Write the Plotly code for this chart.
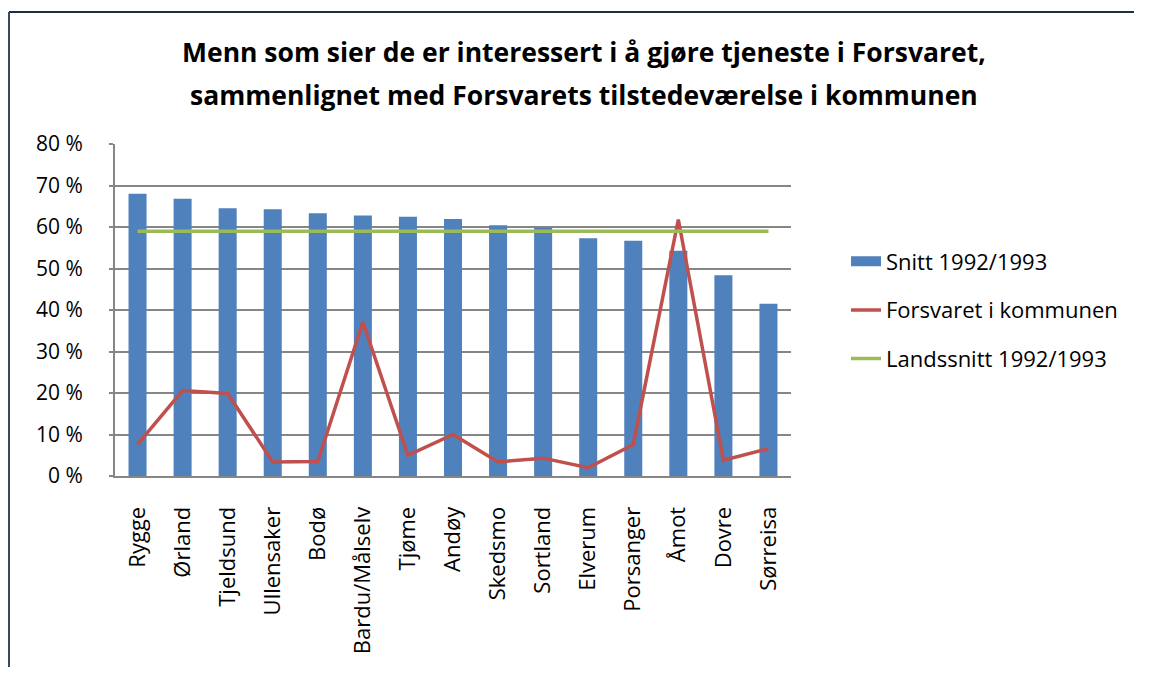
import plotly.graph_objects as go

categories = ["Rygge", "Ørland", "Tjeldsund", "Ullensaker", "Bodø", "Bardu/Målselv",
              "Tjøme", "Andøy", "Skedsmo", "Sortland", "Elverum", "Porsanger",
              "Åmot", "Dovre", "Sørreisa"]
snitt = [68.0, 66.8, 64.5, 64.3, 63.3, 62.8, 62.5, 61.9, 60.4, 59.9, 57.3, 56.7, 54.3, 48.4, 41.5]
forsvaret = [7.6, 20.6, 19.9, 3.4, 3.5, 37.1, 5.0, 10.0, 3.4, 4.3, 2.0, 7.6, 61.8, 3.8, 6.6]
landssnitt = [59.0] * len(categories)
y_tickvals = [0, 10, 20, 30, 40, 50, 60, 70, 80]
y_ticktext = ["0 %", "10 %", "20 %", "30 %", "40 %", "50 %", "60 %", "70 %", "80 %"]
title_lines = ["Menn som sier de er interessert i å gjøre tjeneste i Forsvaret,",
               "sammenlignet med Forsvarets tilstedeværelse i kommunen"]

FONT = "Open Sans"
W, H = 1130, 660
L, R, T, B = 107, 347, 136, 192
PW, PH = W - L - R, H - T - B


def px_x(x):
    return (x - L) / PW


def px_y(y):
    return (PH + T - y) / PH


fig = go.Figure()
fig.add_trace(go.Bar(x=categories, y=snitt, name="Snitt 1992/1993", showlegend=False,
                     legendgroup="a",
                     marker=dict(color="#4F81BD", line=dict(width=0)), width=0.4))
# legend swatch for the bars (wide rectangle)
fig.add_trace(go.Scatter(x=[None], y=[None], name="Snitt 1992/1993", mode="lines",
                         legendgroup="a", line=dict(color="#4F81BD", width=15)))
fig.add_trace(go.Scatter(x=categories, y=forsvaret, name="Forsvaret i kommunen",
                         legendgroup="b",
                         mode="lines", line=dict(color="#C0504D", width=3.5)))
fig.add_trace(go.Scatter(x=categories, y=landssnitt, name="Landssnitt 1992/1993",
                         legendgroup="c",
                         mode="lines", line=dict(color="#9BBB59", width=3.5)))

fig.update_layout(
    width=W, height=H,
    margin=dict(l=L, r=R, t=T, b=B),
    paper_bgcolor="white", plot_bgcolor="white",
    font=dict(family=FONT, size=22, color="black"),
    showlegend=True,
    legend=dict(x=px_x(838), xanchor="left", y=px_y(302), yanchor="middle",
                font=dict(family=FONT, size=22), tracegroupgap=17,
                bgcolor="rgba(0,0,0,0)"),
    annotations=[
        dict(text="<b>" + title_lines[0] + "</b>", xref="paper", yref="paper",
             x=px_x(576), y=px_y(44), xanchor="center", yanchor="middle",
             showarrow=False, font=dict(family=FONT, size=26.5, color="black")),
        dict(text="<b>" + title_lines[1] + "</b>", xref="paper", yref="paper",
             x=px_x(576), y=px_y(87), xanchor="center", yanchor="middle",
             showarrow=False, font=dict(family=FONT, size=26.5, color="black")),
    ],
    shapes=[
        dict(type="line", xref="paper", yref="paper", layer="below",
             x0=px_x(1), x1=px_x(W - 4), y0=px_y(4), y1=px_y(4),
             line=dict(color="#1F2D3D", width=2)),
        dict(type="line", xref="paper", yref="paper", layer="below",
             x0=px_x(1), x1=px_x(1), y0=px_y(4), y1=px_y(H - 1),
             line=dict(color="#3A4A5C", width=2)),
    ],
)
fig.update_xaxes(type="category", tickangle=-90, showline=True, linecolor="#868686",
                 linewidth=2, ticks="", showgrid=False, tickfont=dict(size=22),
                 range=[-0.5, len(categories) - 0.5], ticklabelstandoff=20)
fig.update_yaxes(range=[0, 80], tickvals=y_tickvals, ticktext=y_ticktext,
                 showline=True, linecolor="#868686", linewidth=2,
                 showgrid=True, gridcolor="#868686", gridwidth=2,
                 ticks="outside", ticklen=4, tickcolor="#868686", tickwidth=2,
                 tickfont=dict(size=21), zeroline=False, ticklabelstandoff=22)
fig.write_html("out.html")
